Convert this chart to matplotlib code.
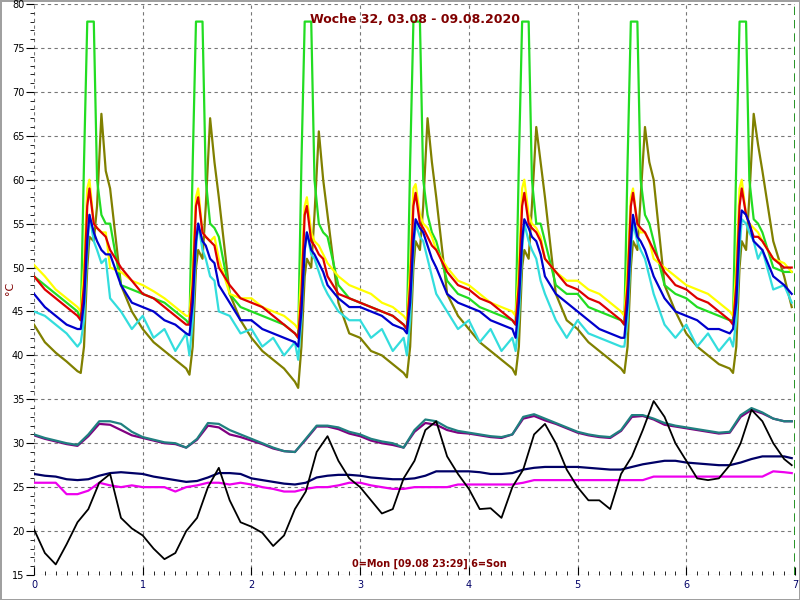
import numpy as np
import matplotlib
matplotlib.use("Agg")
import matplotlib.pyplot as plt
from matplotlib.ticker import MultipleLocator

# ---- time grids (days, 0=Mon) ----
day_offsets_hot = [0, .1, .2, .3, .4, .43, .46, .49, .51, .55, .58, .62, .66, .7, .8, .9]
t_hot = [d + o for d in range(7) for o in day_offsets_hot] + [6.97]
t_low = [round(i * 0.1, 1) for i in range(70)] + [6.97]

# ---- upper (hot water) series ----
green = [49, 48, 47, 46, 45, 44, 62, 78, 78, 78, 60, 56, 55, 55, 48, 47.5,
         47, 46.5, 46, 45, 44, 43.5, 62, 78, 78, 78, 60, 55, 54.5, 53.5, 47, 45.5,
         45, 44.5, 44, 43.5, 42.5, 42, 62, 78, 78, 78, 60, 55, 54, 53.5, 48, 46.5,
         46, 45.5, 45, 44.5, 43.5, 43, 62, 78, 78, 78, 60, 56, 54, 53, 48.5, 47,
         46.5, 45.5, 45, 44.5, 44, 43.5, 62, 78, 78, 78, 60, 55, 55, 53, 48, 47,
         47, 45.5, 45, 44.5, 44, 43.5, 62, 78, 78, 78, 60, 56, 55, 53, 48, 47,
         46.5, 45.5, 45, 44.5, 44, 44, 62, 78, 78, 78, 60, 55.5, 55, 54, 50, 49.5,
         49.5]
yellow = [50.3, 49, 47.5, 46.5, 45.5, 45, 50, 59, 60, 55, 54.5, 54, 54, 50, 49.5, 48.5,
          48, 47.3, 46.5, 45.5, 44.5, 44.5, 50, 58, 59, 54, 53.5, 53, 53.5, 51, 47, 46.5,
          46.5, 45.5, 45, 44.5, 43.5, 43, 50, 57, 58, 54, 53, 52.5, 51.5, 50.5, 49, 48,
          47.5, 47, 46, 45.5, 44.5, 44, 50, 59, 59.5, 56, 55, 54.5, 53.5, 52, 50, 48.5,
          48, 47, 46, 45.5, 45, 44.5, 50, 59, 60, 56, 55, 54.5, 53.5, 51, 49.5, 48.5,
          48.5, 47.5, 47, 46, 45, 44.5, 50, 58, 59, 55, 54, 54, 53, 51, 50, 49,
          48, 47.5, 47, 46, 45, 44.5, 50, 59, 60, 56, 55, 54.5, 54, 53, 51, 50.5,
          49.5]
red = [49, 47.5, 46.5, 45.5, 44.5, 44, 48, 57, 59, 55, 54.5, 54, 53.5, 52, 50, 48.5,
       47, 46.5, 45.5, 44.5, 43.5, 43.5, 48, 57, 58, 54, 53.5, 53, 52.5, 50, 48, 46.5,
       46, 45.5, 44.5, 43.5, 42.5, 42, 47, 56, 57, 53, 52.5, 51.5, 51, 49, 47, 46.5,
       46, 45.5, 45, 44.5, 43.5, 43, 48, 57, 58.5, 55, 54.5, 53.5, 52.5, 52, 49.5, 48,
       47.5, 46.5, 46, 45, 44, 43.5, 48, 57, 58.5, 55, 54.5, 54, 53, 51, 49.5, 48,
       47.5, 46.5, 46, 45, 44, 43.5, 48, 57, 58.5, 55, 54.5, 54, 53, 52, 49.5, 48,
       47.5, 46.5, 46, 45, 44, 43.5, 48, 57, 59, 56, 55, 53.5, 53.5, 53, 51, 50,
       50]
blue = [47, 45.5, 44.5, 43.5, 43, 43, 46, 53, 56, 54, 53, 52, 51.5, 51.5, 48, 46,
        45.5, 45, 44, 43.5, 42.5, 42.3, 46, 53, 55, 53, 52.5, 51, 50.5, 48, 46, 44,
        44, 43, 42.5, 42, 41.5, 41, 45, 52, 54, 52, 51.5, 50.5, 49.5, 48, 46.5, 45.5,
        45.5, 45, 44.5, 43.5, 43, 42.5, 46, 53, 55.5, 54.5, 54, 52.5, 51, 50, 47, 46,
        45.5, 45, 44, 43.5, 43, 42, 46, 53, 55.5, 54.5, 53.5, 53, 51.5, 49, 47, 46,
        45, 44, 43, 42.5, 42, 42, 46, 53, 56, 53.5, 53, 52, 50.5, 49, 46.5, 45,
        44.5, 44, 43, 43, 42.5, 43, 46, 54, 56.5, 56, 55, 53, 52.5, 52, 49, 48,
        47]
cyan = [45, 44.5, 43.5, 42.5, 41, 41.5, 44, 52, 56, 53, 52, 50.5, 51, 46.5, 45, 43,
        44.5, 42, 43, 40.5, 42.5, 40, 44, 52, 55, 52, 51, 49, 48.5, 45, 44.5, 42.5,
        43, 41, 42, 40, 41.5, 39.5, 44, 52, 54, 51.5, 51, 49.5, 48, 47, 45, 44,
        44, 42, 43, 40.5, 42, 40, 44, 52, 55, 53.5, 53, 51, 49, 47, 45, 43,
        44, 41.5, 43, 40.5, 42, 40.5, 44, 52, 55, 53, 52, 51, 48.5, 47, 44, 42,
        44, 42.5, 42, 41.5, 41, 41, 44, 52, 55, 53, 52, 51, 49, 47, 43.5, 42,
        43.5, 41, 42.5, 40.5, 42, 41, 44, 52, 55.5, 55, 54, 53, 51, 52, 47.5, 48,
        46]
olive = [43.5, 41.5, 40.3, 39.3, 38.2, 38, 41, 50, 53.5, 53, 57, 67.5, 61, 59, 48, 45,
         43, 41.5, 40.5, 39.5, 38.5, 37.8, 41, 50, 52, 51, 57, 67, 62, 58, 47, 44,
         42, 40.5, 39.5, 38.5, 37, 36.3, 41, 49, 51, 50, 56, 65.5, 60, 56, 46, 42.5,
         42, 40.5, 40, 39, 38, 37.5, 41, 50, 53, 52, 57, 67, 62, 58, 47, 44.5,
         43, 41.5, 40.5, 39.5, 38.5, 37.8, 41, 50, 52, 51, 57, 66, 62, 58, 47, 44,
         43, 41.5, 40.5, 39.5, 38.5, 38, 41, 50, 53, 52, 58, 66, 62, 60, 48, 45,
         42.5, 41, 40, 39, 38.5, 38, 41, 50, 53, 52, 58, 67.5, 64, 61, 53, 49,
         45.5]

# ---- lower series ----
teal = [31, 30.6, 30.3, 30, 29.8, 31, 32.5, 32.5, 32.2, 31.3,
        30.7, 30.4, 30.1, 30, 29.5, 30.5, 32.3, 32.2, 31.5, 31,
        30.5, 30, 29.5, 29.1, 29, 30.5, 32, 32, 31.8, 31.3,
        31, 30.5, 30.2, 30, 29.5, 31.5, 32.7, 32.5, 31.8, 31.4,
        31.2, 31, 30.8, 30.7, 31, 33, 33.3, 32.8, 32.3, 31.8,
        31.3, 31, 30.8, 30.7, 31.5, 33.2, 33.2, 32.8, 32.3, 32,
        31.8, 31.6, 31.4, 31.2, 31.3, 33.2, 34, 33.5, 32.8, 32.5,
        32.5]
purple = [30.9, 30.5, 30.2, 29.9, 29.7, 30.8, 32.2, 32.1, 31.5, 30.9,
          30.6, 30.3, 30, 29.9, 29.5, 30.4, 32, 31.8, 31, 30.7,
          30.3, 29.9, 29.4, 29.1, 29, 30.4, 31.9, 31.9, 31.6, 31.1,
          30.8, 30.3, 30, 29.8, 29.5, 31.3, 32.3, 32.1, 31.5, 31.2,
          31.1, 30.9, 30.7, 30.6, 31, 32.8, 33.1, 32.6, 32.2, 31.7,
          31.2, 30.9, 30.7, 30.6, 31.4, 33, 33.1, 32.7, 32.1, 31.9,
          31.7, 31.5, 31.3, 31.1, 31.2, 33, 33.8, 33.4, 32.8, 32.5,
          32.5]
navy = [26.5, 26.3, 26.2, 25.9, 25.8, 25.9, 26.3, 26.6, 26.7, 26.6,
        26.5, 26.2, 26, 25.8, 25.6, 25.7, 26.1, 26.6, 26.6, 26.5,
        26, 25.8, 25.6, 25.4, 25.3, 25.5, 26.1, 26.3, 26.4, 26.4,
        26.3, 26.1, 26, 25.9, 25.9, 26, 26.3, 26.8, 26.8, 26.8,
        26.8, 26.7, 26.5, 26.5, 26.6, 27, 27.2, 27.3, 27.3, 27.3,
        27.3, 27.2, 27.1, 27, 27, 27.3, 27.6, 27.8, 28, 28,
        27.8, 27.7, 27.6, 27.5, 27.5, 27.8, 28.2, 28.5, 28.5, 28.5,
        28.3]
magenta = [25.5, 25.5, 25.5, 24.2, 24.2, 24.6, 25.5, 25.2, 25, 25.2,
           25, 25, 25, 24.5, 25, 25.2, 25.5, 25.5, 25.3, 25.5,
           25.3, 25, 24.8, 24.5, 24.5, 24.8, 25, 25, 25.2, 25.5,
           25.5, 25.2, 25, 24.8, 24.8, 25, 25, 25, 25, 25.3,
           25.3, 25.3, 25.3, 25.3, 25.3, 25.5, 25.8, 25.8, 25.8, 25.8,
           25.8, 25.8, 25.8, 25.8, 25.8, 25.8, 25.8, 26.2, 26.2, 26.2,
           26.2, 26.2, 26.2, 26.2, 26.2, 26.2, 26.2, 26.2, 26.8, 26.7,
           26.6]
black = [20.2, 17.5, 16.2, 18.5, 21, 22.5, 25.5, 26.5, 21.5, 20.3,
         19.5, 18, 16.8, 17.5, 20, 21.5, 25, 27.2, 23.5, 21,
         20.5, 19.8, 18.3, 19.5, 22.5, 24.5, 29, 30.8, 28, 26,
         25, 23.5, 22, 22.5, 26, 28, 31.5, 32.5, 28.5, 26.5,
         24.8, 22.5, 22.6, 21.5, 25, 27, 31, 32.2, 30, 27,
         25, 23.5, 23.5, 22.5, 26.5, 28.5, 31.5, 34.8, 33, 30,
         28, 26, 25.8, 26, 27.5, 30, 33.8, 32.5, 30, 28.2,
         27.5]

fig = plt.figure(figsize=(8, 6), dpi=100)
fig.patch.set_facecolor("white")
fig.patch.set_edgecolor("#a0a0a0")
fig.patch.set_linewidth(2)
ax = fig.add_axes([0.0425, 0.0417, 0.95125, 0.9516])

ax.plot(t_hot, olive, color="#808000", lw=1.6)
ax.plot(t_hot, green, color="#22dd22", lw=1.6)
ax.plot(t_hot, yellow, color="#ffff00", lw=1.6)
ax.plot(t_hot, cyan, color="#33dddd", lw=1.6)
ax.plot(t_hot, red, color="#dd0000", lw=1.6)
ax.plot(t_hot, blue, color="#0000cc", lw=1.6)
ax.plot(t_low, purple, color="#800080", lw=1.6)
ax.plot(t_low, teal, color="#208080", lw=1.6)
ax.plot(t_low, navy, color="#000066", lw=1.6)
ax.plot(t_low, magenta, color="#ee00ee", lw=1.6)
ax.plot(t_low, black, color="black", lw=1.3)

ax.axvline(7, color="#008000", ls=(0, (5, 3)), lw=1.2)

ax.set_xlim(0, 7)
ax.set_ylim(15, 80)
for s in ax.spines.values():
    s.set_visible(False)
ax.xaxis.set_major_locator(MultipleLocator(1))
ax.xaxis.set_minor_locator(MultipleLocator(0.1))
ax.yaxis.set_major_locator(MultipleLocator(5))
ax.yaxis.set_minor_locator(MultipleLocator(1))
ax.tick_params(axis="both", which="major", labelsize=7, length=6, direction="in", color="black")
ax.tick_params(axis="y", which="major", direction="out", pad=1)
ax.tick_params(axis="y", which="minor", direction="out", length=3)
ax.tick_params(axis="x", which="minor", direction="in", length=3)
ax.tick_params(axis="x", labelcolor="#000066")
ax.grid(True, which="major", color="#777777", ls=(0, (3, 3)), lw=0.8)

ax.text(0.5, 0.985, "Woche 32, 03.08 - 09.08.2020", transform=ax.transAxes,
        ha="center", va="top", color="#800000", fontsize=9, fontweight="bold")
ax.text(0.52, 0.01, "0=Mon [09.08 23:29] 6=Son", transform=ax.transAxes,
        ha="center", va="bottom", color="#800000", fontsize=7, fontweight="bold")
fig.text(0.012, 0.52, "°C", rotation=90, color="#800000", fontsize=8,
         ha="center", va="center")

fig.savefig("out.png", dpi=100)
